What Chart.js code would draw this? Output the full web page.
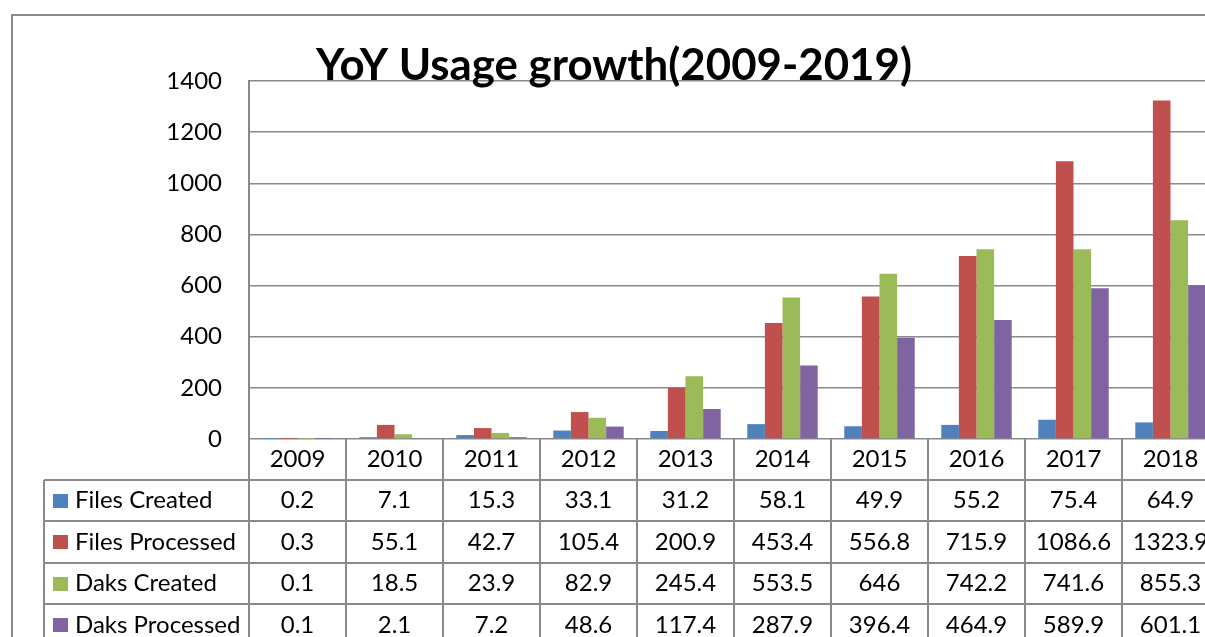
<!DOCTYPE html>
<html>
<head>
<meta charset="utf-8">
<script src="https://cdn.jsdelivr.net/npm/chart.js@4/dist/chart.umd.min.js"></script>
<style>
  html, body { margin: 0; padding: 0; background: #fff; overflow: hidden; }
  #wrap { position: absolute; left: 0; top: 0; width: 1230px; height: 637px; }
</style>
</head>
<body>
<div id="wrap"><canvas id="c"></canvas></div>
<script>
const years = ['2009','2010','2011','2012','2013','2014','2015','2016','2017','2018'];
const filesCreated   = [0.2, 7.1, 15.3, 33.1, 31.2, 58.1, 49.9, 55.2, 75.4, 64.9];
const filesProcessed = [0.3, 55.1, 42.7, 105.4, 200.9, 453.4, 556.8, 715.9, 1086.6, 1323.9];
const daksCreated    = [0.1, 18.5, 23.9, 82.9, 245.4, 553.5, 646, 742.2, 741.6, 855.3];
const daksProcessed  = [0.1, 2.1, 7.2, 48.6, 117.4, 287.9, 396.4, 464.9, 589.9, 601.1];
const seriesNames  = ['Files Created', 'Files Processed', 'Daks Created', 'Daks Processed'];
const seriesColors = ['#4F81BD', '#C0504D', '#9BBB59', '#8064A2'];
const titleText = 'YoY Usage growth(2009-2019)';

const FONT = 'Lato, "Open Sans", sans-serif';
const LINE = '#8a8a8a';
const TXT = 24;

const seriesData = [filesCreated, filesProcessed, daksCreated, daksProcessed];

const tablePlugin = {
  id: 'dataTable',
  afterDraw(chart) {
    const ctx = chart.ctx;
    const area = chart.chartArea;
    const x = chart.scales.x;
    const n = years.length;
    const colW = area.width / n;
    const top = area.bottom;          // header row top
    const headerH = 41;
    const rowH = 41.4;
    const legendLeft = 44;

    ctx.save();
    // outer chart border
    ctx.strokeStyle = LINE;
    ctx.lineWidth = 2;
    ctx.strokeRect(12, 15, 1400, 800);

    // vertical column lines
    for (let i = 0; i <= n; i++) {
      const bx = Math.round(area.left + i * colW);
      ctx.beginPath();
      ctx.moveTo(bx, top);
      ctx.lineTo(bx, 700);
      ctx.stroke();
    }
    // legend column left line
    ctx.beginPath();
    ctx.moveTo(legendLeft, top + headerH);
    ctx.lineTo(legendLeft, 700);
    ctx.stroke();
    // horizontal row lines
    for (let r = 0; r <= seriesNames.length; r++) {
      const y = Math.round(top + headerH + r * rowH);
      ctx.beginPath();
      ctx.moveTo(legendLeft, y);
      ctx.lineTo(area.right + 20, y);
      ctx.stroke();
    }

    // header labels
    ctx.fillStyle = '#000';
    ctx.font = TXT + 'px ' + FONT;
    ctx.textAlign = 'center';
    ctx.textBaseline = 'middle';
    for (let i = 0; i < n; i++) {
      ctx.fillText(years[i], x.getPixelForValue(i), top + headerH / 2);
    }
    // rows
    for (let r = 0; r < seriesNames.length; r++) {
      const cy = top + headerH + r * rowH + rowH / 2;
      ctx.fillStyle = seriesColors[r];
      ctx.fillRect(53, Math.round(cy - 7), 15, 14);
      ctx.fillStyle = '#000';
      ctx.textAlign = 'left';
      ctx.fillText(seriesNames[r], 75, cy);
      ctx.textAlign = 'center';
      for (let i = 0; i < n; i++) {
        ctx.fillText(String(seriesData[r][i]), x.getPixelForValue(i), cy);
      }
    }

    // title
    let fs = 40;
    ctx.font = 'bold ' + fs + 'px ' + FONT;
    const w = ctx.measureText(titleText).width;
    fs = fs * 596 / w;
    ctx.font = 'bold ' + fs.toFixed(1) + 'px ' + FONT;
    ctx.textAlign = 'center';
    ctx.textBaseline = 'alphabetic';
    ctx.fillStyle = '#000';
    ctx.fillText(titleText, 614, 80);
    ctx.restore();
  }
};

new Chart(document.getElementById('c'), {
  type: 'bar',
  data: {
    labels: years,
    datasets: seriesNames.map((name, i) => ({
      label: name,
      data: seriesData[i],
      backgroundColor: seriesColors[i],
      borderWidth: 0,
      categoryPercentage: 0.726,
      barPercentage: 1.0
    }))
  },
  options: {
    responsive: true,
    maintainAspectRatio: false,
    animation: false,
    layout: { padding: { left: 0, top: 81, right: 11, bottom: 198 } },
    plugins: {
      legend: { display: false },
      title: { display: false },
      tooltip: { enabled: false }
    },
    scales: {
      x: { display: false },
      y: {
        min: 0,
        max: 1400,
        afterFit(scale) { scale.width = 249; },
        ticks: {
          stepSize: 200,
          padding: 27,
          color: '#000',
          font: { family: FONT, size: TXT },
          callback: (v) => String(v)
        },
        grid: { color: LINE, lineWidth: 1.5, drawTicks: false },
        border: { display: true, color: LINE, width: 2 }
      }
    }
  },
  plugins: [tablePlugin]
});
</script>
</body>
</html>
